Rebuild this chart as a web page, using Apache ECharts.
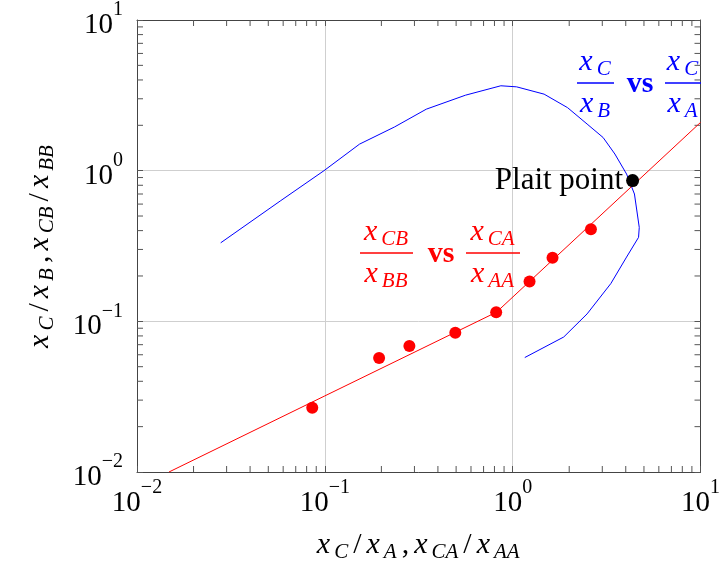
<!DOCTYPE html>
<html><head><meta charset="utf-8">
<script src="https://cdn.jsdelivr.net/npm/echarts@6/dist/echarts.min.js"></script>
<style>html,body{margin:0;padding:0;background:#fff}#c{width:723px;height:568px}</style>
</head><body><div id="c"></div>
<script>
// ---- data ----
const decadeTicks = [0.01, 0.1, 1, 10];
const minorMultipliers = [2, 3, 4, 5, 6, 7, 8, 9];
const minorDecades = [0.01, 0.1, 1];

// blue curve: x_C/x_A (x) vs x_C/x_B (y)
const blueX = [0.0279, 0.0583, 0.099, 0.153, 0.235, 0.347, 0.561, 0.865, 1.05, 1.47, 1.96, 2.49, 3.03, 3.50, 4.04, 4.45, 4.72, 4.68, 4.04, 3.33, 2.49, 1.87, 1.16];
const blueY = [0.332, 0.633, 1.0, 1.50, 1.95, 2.56, 3.17, 3.66, 3.60, 3.22, 2.62, 2.04, 1.66, 1.29, 0.95, 0.70, 0.42, 0.361, 0.267, 0.178, 0.112, 0.0787, 0.0575];

// red fitted line
const redLineX = [0.0148, 0.1, 0.82, 10];
const redLineY = [0.01, 0.032, 0.115, 2.09];

// red data points: x_CA/x_AA vs x_CB/x_BB
const redPtsX = [0.0857, 0.1945, 0.282, 0.495, 0.817, 1.23, 1.63, 2.61];
const redPtsY = [0.0267, 0.0571, 0.0686, 0.0841, 0.115, 0.184, 0.264, 0.408];

// plait point
const plaitX = [4.35];
const plaitY = [0.86];

// ---- build ----
const SERIF = 'Liberation Serif';
const zip = (a, b) => a.map((v, i) => [v, b[i]]);
const minorValues = [];
minorDecades.forEach(d => minorMultipliers.forEach(m => minorValues.push(+(d * m).toPrecision(6))));

function supLabel(v) {
  const e = Math.round(Math.log10(v));
  return '{b|10}{s|' + (e < 0 ? '\u2212' + (-e) : String(e)) + '}';
}
const supRich = {
  b: { fontFamily: SERIF, fontSize: 29, lineHeight: 40, verticalAlign: 'bottom', color: '#000' },
  s: { fontFamily: SERIF, fontSize: 20, lineHeight: 20, verticalAlign: 'top', color: '#000' }
};
function mathRich(color) {
  return {
    i: { fontFamily: SERIF, fontStyle: 'italic', fontSize: 30, verticalAlign: 'middle', padding: [0, 3, 0, 2], color: color, fill: color },
    r: { fontFamily: SERIF, fontSize: 30, verticalAlign: 'middle', padding: [0, 3, 0, 2], color: color, fill: color },
    u: { fontFamily: SERIF, fontStyle: 'italic', fontSize: 21, verticalAlign: 'middle', padding: [14, 3, 0, 1], color: color, fill: color }
  };
}

const axisLineStyle = { color: '#444', width: 1 };
const tickStyle = { color: '#555', width: 1 };

function xAxisCfg(pos, main) {
  return {
    type: 'log', logBase: 10, min: 0.01, max: 10, position: pos,
    axisLine: { show: true, lineStyle: axisLineStyle },
    axisTick: { show: true, inside: true, length: 6, lineStyle: tickStyle },
    axisLabel: main ? { show: true, margin: 6, formatter: supLabel, rich: supRich } : { show: false },
    splitLine: { show: main, lineStyle: { color: '#cfcfcf', width: 1 } },
    minorTick: { show: false }, minorSplitLine: { show: false },
    name: main ? '{i|x}{u|C}{r|/}{i|x}{u|A}{r|,}{i|x}{u|CA}{r|/}{i|x}{u|AA}' : '',
    nameLocation: 'middle', nameGap: 56,
    nameTextStyle: { rich: mathRich('#000') }
  };
}
function yAxisCfg(pos, main) {
  return {
    type: 'log', logBase: 10, min: 0.01, max: 10, position: pos,
    axisLine: { show: true, lineStyle: axisLineStyle },
    axisTick: { show: true, inside: true, length: 6, lineStyle: tickStyle },
    axisLabel: main ? { show: true, margin: 14, formatter: supLabel, rich: supRich } : { show: false },
    splitLine: { show: main, lineStyle: { color: '#cfcfcf', width: 1 } },
    minorTick: { show: false }, minorSplitLine: { show: false },
    name: main ? '{i|x}{u|C}{r|/}{i|x}{u|B}{r|,}{i|x}{u|CB}{r|/}{i|x}{u|BB}' : '',
    nameLocation: 'middle', nameGap: 79, nameRotate: 90,
    nameTextStyle: { rich: mathRich('#000') }
  };
}

function fraction(cx, barY, w, num, den, color) {
  const rich = mathRich(color);
  return [
    { type: 'text', z: 50, style: { text: num, rich: rich, x: cx, y: barY - 21, align: 'center', verticalAlign: 'middle', fill: color } },
    { type: 'line', z: 50, shape: { x1: cx - w / 2, y1: barY, x2: cx + w / 2, y2: barY }, style: { stroke: color, lineWidth: 1.3 } },
    { type: 'text', z: 50, style: { text: den, rich: rich, x: cx, y: barY + 21, align: 'center', verticalAlign: 'middle', fill: color } }
  ];
}
function vsText(cx, y, color) {
  return { type: 'text', z: 50, style: { text: 'vs', x: cx, y: y, align: 'center', verticalAlign: 'middle', fill: color, font: 'bold 30px "Liberation Serif"' } };
}

const BLUE = '#0000ff', RED = '#ff0000';
const graphics = []
  .concat(fraction(595.5, 83, 37, '{i|x}{u|C}', '{i|x}{u|B}', BLUE))
  .concat([vsText(640, 84, BLUE)])
  .concat(fraction(683, 83, 36, '{i|x}{u|C}', '{i|x}{u|A}', BLUE))
  .concat(fraction(386.5, 253, 53, '{i|x}{u|CB}', '{i|x}{u|BB}', RED))
  .concat([vsText(441, 254, RED)])
  .concat(fraction(493, 253, 54, '{i|x}{u|CA}', '{i|x}{u|AA}', RED));

const option = {
  animation: false,
  backgroundColor: '#fff',
  grid: { left: 137, right: 19, top: 19, bottom: 96, containLabel: false },
  xAxis: [xAxisCfg('bottom', true), xAxisCfg('top', false)],
  yAxis: [yAxisCfg('left', true), yAxisCfg('right', false)],
  graphic: graphics,
  series: [
    {
      type: 'custom', name: 'minorTicks', silent: true, clip: false, z: 5,
      xAxisIndex: 0, yAxisIndex: 0,
      data: minorValues.map(v => [v, v]),
      renderItem: function (params, api) {
        const v = api.value(0);
        const cs = params.coordSys;
        const px = api.coord([v, 1])[0];
        const py = api.coord([1, v])[1];
        const L = 6;
        const st = { stroke: '#555', lineWidth: 1 };
        return {
          type: 'group', children: [
            { type: 'line', shape: { x1: px, y1: cs.y + cs.height, x2: px, y2: cs.y + cs.height - L }, style: st },
            { type: 'line', shape: { x1: px, y1: cs.y, x2: px, y2: cs.y + L }, style: st },
            { type: 'line', shape: { x1: cs.x, y1: py, x2: cs.x + L, y2: py }, style: st },
            { type: 'line', shape: { x1: cs.x + cs.width, y1: py, x2: cs.x + cs.width - L, y2: py }, style: st }
          ]
        };
      }
    },
    {
      type: 'line', name: 'blue', data: zip(blueX, blueY), showSymbol: false, symbol: 'none',
      lineStyle: { color: BLUE, width: 1 }, z: 10
    },
    {
      type: 'line', name: 'redLine', data: zip(redLineX, redLineY), showSymbol: false, symbol: 'none',
      lineStyle: { color: RED, width: 1 }, z: 11
    },
    {
      type: 'scatter', name: 'redPts', data: zip(redPtsX, redPtsY), symbol: 'circle', symbolSize: 12,
      itemStyle: { color: RED, opacity: 1 }, z: 12
    },
    {
      type: 'scatter', name: 'plait', data: zip(plaitX, plaitY), symbol: 'circle', symbolSize: 13,
      itemStyle: { color: '#000', opacity: 1 }, z: 13,
      label: { show: true, position: 'left', distance: 3, formatter: 'Plait point', color: '#000', fontFamily: SERIF, fontSize: 31 }
    }
  ]
};
const chart = echarts.init(document.getElementById('c'));
chart.setOption(option);
</script>
</body></html>
